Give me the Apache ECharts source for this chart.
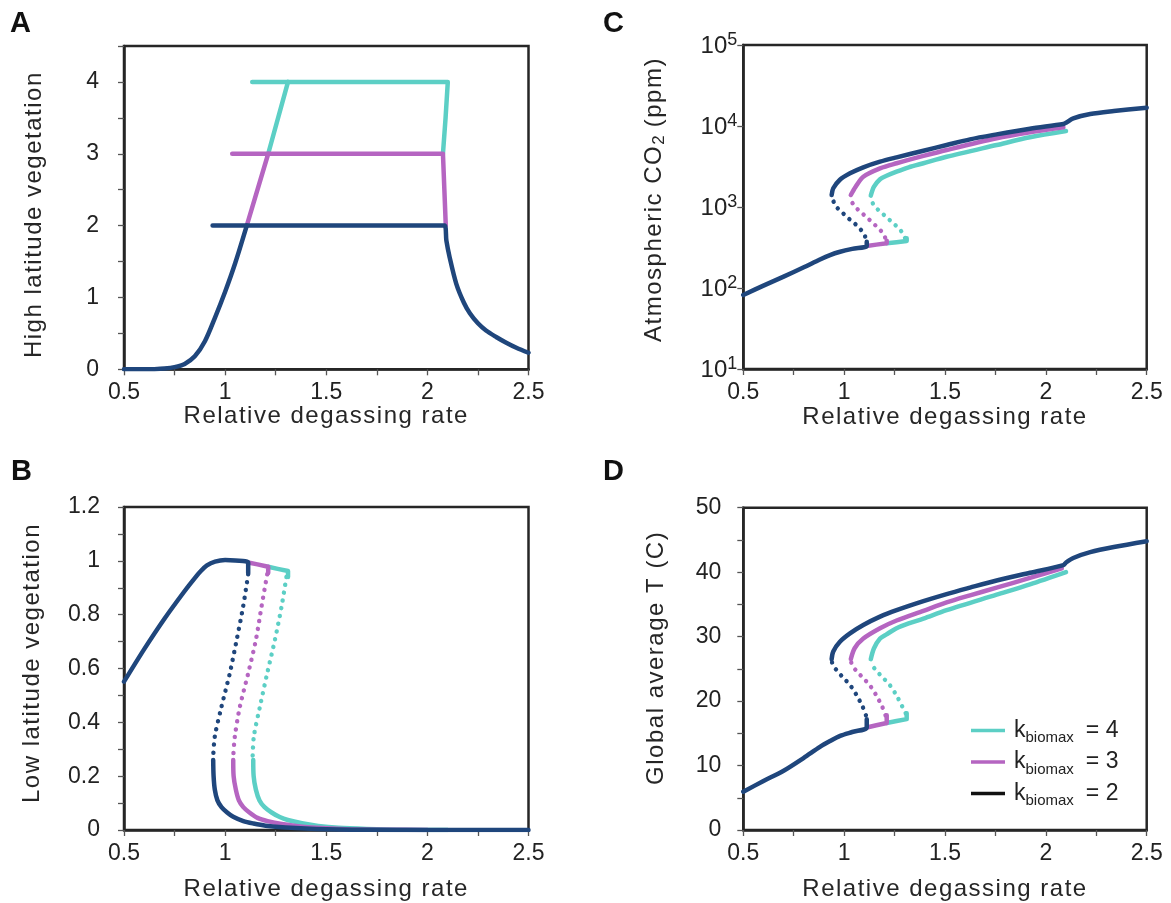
<!DOCTYPE html>
<html><head><meta charset="utf-8">
<script src="https://cdn.jsdelivr.net/npm/echarts@6/dist/echarts.min.js"></script>
<style>html,body{margin:0;padding:0;background:#fff}#c{width:1171px;height:903px}</style>
</head><body><div id="c"></div>
<script>
// ---------- data ----------
const xTickLabels = ['0.5', '1', '1.5', '2', '2.5'];
const seriesKeys = ['k4', 'k3', 'k2'];
const legendValues = {k4: '4', k3: '3', k2: '2'};

// A: high latitude vegetation
const aNavyCold = [[0.5,0],[0.6,0],[0.65,0.002],[0.7,0.01],[0.75,0.03],[0.8,0.075],[0.85,0.18],[0.9,0.39],[0.95,0.72],[1.0,1.08],[1.05,1.48],[1.107,2.0]];
const aNavyHot = [[0.938,2],[2.085,2],[2.094,1.79],[2.11,1.56],[2.143,1.19],[2.18,0.93],[2.21,0.78],[2.25,0.64],[2.29,0.54],[2.34,0.45],[2.39,0.37],[2.44,0.3],[2.5,0.23]];
const aMagCold = [[1.107,2],[1.213,3]];
const aMagHot = [[1.035,3],[2.077,3],[2.084,2.5],[2.091,2]];
const aTealCold = [[1.213,3],[1.311,4]];
const aTealHot = [[1.134,4],[2.101,4],[2.09,3.5],[2.077,3]];

// B: low latitude vegetation
const bNavyUpper = [[0.5,0.551],[0.6,0.672],[0.7,0.785],[0.8,0.888],[0.85,0.936],[0.88,0.962],[0.91,0.983],[0.95,0.997],[1.0,1.003],[1.05,1.001],[1.114,0.994],[1.114,0.955]];
const bMagUpper = [[1.114,0.994],[1.16,0.987],[1.213,0.978],[1.213,0.955]];
const bTealUpper = [[1.213,0.978],[1.26,0.97],[1.311,0.962],[1.311,0.94]];
const bNavyMid = [[1.114,0.95],[1.089,0.83],[1.057,0.706],[1.023,0.582],[0.982,0.458],[0.949,0.347],[0.941,0.27]];
const bMagMid = [[1.208,0.95],[1.18,0.83],[1.152,0.706],[1.114,0.582],[1.073,0.458],[1.048,0.347],[1.04,0.27]];
const bTealMid = [[1.303,0.94],[1.279,0.83],[1.246,0.706],[1.208,0.582],[1.172,0.458],[1.142,0.347],[1.136,0.27]];
const bNavyLower = [[0.941,0.26],[0.943,0.2],[0.949,0.15],[0.962,0.11],[0.982,0.085],[1.01,0.065],[1.04,0.049],[1.09,0.033],[1.14,0.024],[1.2,0.016],[1.3,0.009],[1.45,0.004],[1.7,0.001],[2.0,0],[2.5,0]];
const bMagLower = [[1.04,0.26],[1.042,0.2],[1.053,0.15],[1.068,0.11],[1.09,0.085],[1.12,0.065],[1.16,0.045],[1.21,0.033],[1.28,0.022],[1.36,0.014],[1.45,0.008],[1.6,0.003],[1.8,0.001],[2.0,0]];
const bTealLower = [[1.139,0.26],[1.141,0.2],[1.152,0.15],[1.17,0.11],[1.195,0.085],[1.23,0.065],[1.27,0.048],[1.31,0.037],[1.38,0.025],[1.46,0.015],[1.56,0.008],[1.7,0.004],[1.9,0.001],[2.1,0]];

// C: atmospheric CO2 (ppm)
const cNavyCold = [[0.5,82],[0.6,107],[0.7,138],[0.8,180],[0.88,225],[0.93,255],[0.98,280],[1.04,304],[1.112,330],[1.112,373]];
const cMagCold = [[1.112,330],[1.16,343],[1.211,357],[1.211,384]];
const cTealCold = [[1.211,357],[1.26,368],[1.31,380],[1.31,410]];
const cNavyMid = [[1.104,432],[1.091,495],[1.059,603],[1.029,697],[1.0,813],[0.968,964],[0.948,1162],[0.94,1300]];
const cMagMid = [[1.203,420],[1.186,495],[1.156,590],[1.125,697],[1.095,813],[1.062,964],[1.037,1162],[1.034,1300]];
const cTealMid = [[1.302,415],[1.285,495],[1.256,590],[1.224,697],[1.194,813],[1.161,964],[1.137,1162],[1.133,1300]];
const cNavyHot = [[0.938,1406],[0.946,1702],[0.979,2172],[1.029,2608],[1.095,3093],[1.178,3631],[1.26,4106],[1.393,4955],[1.508,5821],[1.624,6839],[1.756,7880],[1.921,9270],[2.087,10600],[2.1,10970],[2.136,12450],[2.22,14060],[2.337,15300],[2.5,16830]];
const cMagHot = [[1.033,1406],[1.057,1780],[1.095,2366],[1.178,3000],[1.26,3470],[1.393,4270],[1.508,5060],[1.756,7050],[1.921,8350],[2.087,9640]];
const cTealHot = [[1.132,1380],[1.148,1780],[1.178,2200],[1.21,2427],[1.26,2730],[1.32,3090],[1.393,3470],[1.508,4170],[1.756,5820],[1.921,7250],[2.1,8670]];

// D: global average T (C)
const dNavyCold = [[0.5,5.94],[0.6,7.6],[0.7,9.2],[0.8,11.2],[0.88,12.9],[0.93,13.8],[0.98,14.6],[1.04,15.2],[1.112,15.9],[1.112,17.2]];
const dMagCold = [[1.112,15.9],[1.16,16.25],[1.211,16.6],[1.211,17.8]];
const dTealCold = [[1.211,16.6],[1.26,16.9],[1.31,17.2],[1.31,18.1]];
const dNavyMid = [[1.108,17.8],[1.092,19.1],[1.062,20.9],[1.029,22.5],[0.996,23.6],[0.968,24.6],[0.945,25.5],[0.94,26.0]];
const dMagMid = [[1.205,17.8],[1.189,19.1],[1.159,20.9],[1.126,22.5],[1.093,23.6],[1.063,24.6],[1.04,25.5],[1.035,26.0]];
const dTealMid = [[1.305,18.1],[1.289,19.1],[1.259,20.9],[1.226,22.5],[1.193,23.6],[1.163,24.6],[1.14,25.5],[1.134,26.0]];
const dNavyHot = [[0.938,26.5],[0.946,27.7],[0.979,29.2],[1.029,30.5],[1.095,31.8],[1.178,33.1],[1.26,34.1],[1.393,35.5],[1.508,36.6],[1.624,37.6],[1.756,38.7],[1.921,39.9],[2.087,41.1],[2.1,41.5],[2.136,42.2],[2.22,43.1],[2.337,43.9],[2.5,44.8]];
const dMagHot = [[1.033,26.5],[1.052,28.2],[1.095,29.7],[1.178,31.3],[1.26,32.5],[1.393,34.0],[1.508,35.3],[1.624,36.4],[1.756,37.6],[1.921,39.1],[2.079,40.6]];
const dTealHot = [[1.132,26.5],[1.148,28.2],[1.178,29.7],[1.21,30.35],[1.26,31.3],[1.32,32.05],[1.393,32.8],[1.508,34.1],[1.756,36.5],[1.921,38.1],[2.1,40.0]];

// ---------- styling ----------
const COLORS = {k2: '#1f467c', k3: '#b565c1', k4: '#5ccfc5'};
const LEGEND_COLORS = {k2: '#111111', k3: '#b565c1', k4: '#5ccfc5'};
const TITLE_FONT = 'Liberation Sans, Helvetica';   // titles get letter spacing
const LABEL_FONT = 'Liberation Sans';
const AXIS_COLOR = '#262626';
const TEXT_COLOR = '#222';
const TITLE_SIZE = 24;
const SPACING = 1.5;

// letter-spacing for title text (marker: Helvetica in font string)
(function () {
  const P = CanvasRenderingContext2D.prototype;
  const orig = P.fillText;
  P.fillText = function (t, x, y, w) {
    if ('letterSpacing' in this) {
      this.letterSpacing = (String(this.font).indexOf('Helvetica') >= 0) ? SPACING + 'px' : '0px';
    }
    return w === undefined ? orig.call(this, t, x, y) : orig.call(this, t, x, y, w);
  };
})();
const measureCtx = document.createElement('canvas').getContext('2d');
function spacedWidth(text, size) {
  measureCtx.font = size + 'px "Liberation Sans"';
  return measureCtx.measureText(text).width + SPACING * text.length;
}

// ---------- layout ----------
const grids = [
  {left: 124, top: 46, width: 404.5, height: 323.3},    // A
  {left: 124, top: 507, width: 404.5, height: 323},     // B
  {left: 743.3, top: 45, width: 403.4, height: 324},    // C
  {left: 743.3, top: 507.7, width: 403.4, height: 322.3} // D
].map(g => Object.assign({show: true, borderColor: AXIS_COLOR, borderWidth: 2.5,
  backgroundColor: 'transparent', containLabel: false, outerBoundsMode: 'none'}, g));

const near = (v, step) => Math.abs(v / step - Math.round(v / step)) < 1e-6;

function xAxis(gi, nameGap) {
  return {
    type: 'value', gridIndex: gi, min: 0.5, max: 2.5, interval: 0.25,
    axisLine: {show: true, onZero: false, lineStyle: {color: AXIS_COLOR, width: 2.5}},
    axisTick: {show: true, inside: false, length: 6, lineStyle: {color: '#555', width: 1.3}},
    axisLabel: {margin: 12, fontSize: 23, color: TEXT_COLOR, fontFamily: LABEL_FONT,
      formatter: v => near(v, 0.5) ? xTickLabels[Math.round((v - 0.5) / 0.5)] : ''},
    splitLine: {show: false},
    name: 'Relative degassing rate', nameLocation: 'middle', nameGap: nameGap, nameMoveOverlap: false,
    nameTextStyle: {fontSize: TITLE_SIZE, fontFamily: TITLE_FONT, color: AXIS_COLOR}
  };
}
function yAxisBase(gi, extra) {
  return Object.assign({
    type: 'value', gridIndex: gi,
    axisLine: {show: true, onZero: false, lineStyle: {color: AXIS_COLOR, width: 2.5}},
    axisTick: {show: true, inside: false, length: 6, lineStyle: {color: '#555', width: 1.3}},
    splitLine: {show: false}, nameLocation: 'middle', nameRotate: 90, nameMoveOverlap: false
  }, extra);
}

const wA = spacedWidth('Atmospheric CO', TITLE_SIZE);
const wB = spacedWidth(' (ppm)', TITLE_SIZE);

const yAxes = [
  yAxisBase(0, {min: 0, max: 4.5, interval: 0.5,
    axisLabel: {margin: 25, fontSize: 23, color: TEXT_COLOR, fontFamily: LABEL_FONT,
      formatter: v => (near(v, 1) && v <= 4) ? String(Math.round(v)) : ''},
    name: 'High latitude vegetation', nameGap: 78,
    nameTextStyle: {fontSize: TITLE_SIZE, fontFamily: TITLE_FONT, color: AXIS_COLOR, padding: [0, 14, 0, 0]}}),
  yAxisBase(1, {min: 0, max: 1.2, interval: 0.1,
    axisLabel: {margin: 24, fontSize: 23, color: TEXT_COLOR, fontFamily: LABEL_FONT,
      formatter: v => { const k = Math.round(v * 10); return k % 2 ? '' : String(k / 10); }},
    name: 'Low latitude vegetation', nameGap: 80,
    nameTextStyle: {fontSize: TITLE_SIZE, fontFamily: TITLE_FONT, color: AXIS_COLOR, padding: [0, 0, 0, 11]}}),
  yAxisBase(2, {type: 'log', logBase: 10, min: 10, max: 100000,
    axisLabel: {margin: 6, color: TEXT_COLOR,
      formatter: v => '{b|10}{p|' + Math.round(Math.log10(v)) + '}',
      rich: {b: {fontSize: 24, fontFamily: LABEL_FONT, color: TEXT_COLOR, lineHeight: 27, verticalAlign: 'bottom'},
             p: {fontSize: 18, fontFamily: LABEL_FONT, color: TEXT_COLOR, lineHeight: 27, verticalAlign: 'top'}}},
    name: '{a|Atmospheric CO}{s|2}{b| (ppm)}', nameGap: 75,
    nameTextStyle: {padding: [0, 0, 0, 15],
      rich: {a: {fontSize: TITLE_SIZE, fontFamily: TITLE_FONT, color: AXIS_COLOR, width: wA, lineHeight: 28, verticalAlign: 'middle'},
             s: {fontSize: 17, fontFamily: LABEL_FONT, color: AXIS_COLOR, lineHeight: 28, verticalAlign: 'bottom'},
             b: {fontSize: TITLE_SIZE, fontFamily: TITLE_FONT, color: AXIS_COLOR, width: wB, lineHeight: 28, verticalAlign: 'middle'}}}}),
  yAxisBase(3, {min: 0, max: 50, interval: 5,
    axisLabel: {margin: 22, fontSize: 23, color: TEXT_COLOR, fontFamily: LABEL_FONT,
      formatter: v => near(v, 10) ? String(Math.round(v)) : ''},
    name: 'Global average T (C)', nameGap: 75,
    nameTextStyle: {fontSize: TITLE_SIZE, fontFamily: TITLE_FONT, color: AXIS_COLOR, padding: [0, 0, 0, 22]}})
];

function mk(key, gi, data, kind) {
  const dotted = kind === 'dot';
  return {
    type: 'line', name: key, xAxisIndex: gi, yAxisIndex: gi, data: data,
    showSymbol: false, symbol: 'none', silent: true, clip: true,
    smooth: kind === 'straight' ? false : 0.3,
    lineStyle: dotted
      ? {color: COLORS[key], width: 4.4, type: [0.1, 7.8], cap: 'round'}
      : {color: COLORS[key], width: 4.5, cap: 'round', join: 'round'},
    itemStyle: {color: COLORS[key]}
  };
}

const series = [
  // A
  mk('k4', 0, aTealHot, 'straight'), mk('k4', 0, aTealCold, 'straight'),
  mk('k3', 0, aMagHot, 'straight'), mk('k3', 0, aMagCold, 'straight'),
  mk('k2', 0, aNavyCold, 'curve'), mk('k2', 0, aNavyHot, 'curve'),
  // B
  mk('k4', 1, bTealLower, 'curve'), mk('k4', 1, bTealMid, 'dot'), mk('k4', 1, bTealUpper, 'straight'),
  mk('k3', 1, bMagLower, 'curve'), mk('k3', 1, bMagMid, 'dot'), mk('k3', 1, bMagUpper, 'straight'),
  mk('k2', 1, bNavyLower, 'curve'), mk('k2', 1, bNavyMid, 'dot'), mk('k2', 1, bNavyUpper, 'curve'),
  // C
  mk('k4', 2, cTealHot, 'curve'), mk('k4', 2, cTealMid, 'dot'), mk('k4', 2, cTealCold, 'straight'),
  mk('k3', 2, cMagHot, 'curve'), mk('k3', 2, cMagMid, 'dot'), mk('k3', 2, cMagCold, 'straight'),
  mk('k2', 2, cNavyHot, 'curve'), mk('k2', 2, cNavyMid, 'dot'), mk('k2', 2, cNavyCold, 'curve'),
  // D
  mk('k4', 3, dTealHot, 'curve'), mk('k4', 3, dTealMid, 'dot'), mk('k4', 3, dTealCold, 'straight'),
  mk('k3', 3, dMagHot, 'curve'), mk('k3', 3, dMagMid, 'dot'), mk('k3', 3, dMagCold, 'straight'),
  mk('k2', 3, dNavyHot, 'curve'), mk('k2', 3, dNavyMid, 'dot'), mk('k2', 3, dNavyCold, 'curve')
];

const panelLetters = [
  {t: 'A', x: 10, y: 9}, {t: 'B', x: 11, y: 457}, {t: 'C', x: 603, y: 9}, {t: 'D', x: 603, y: 457}
];

const option = {
  animation: false,
  backgroundColor: '#ffffff',
  grid: grids,
  xAxis: [xAxis(0, 35), xAxis(1, 47), xAxis(2, 36), xAxis(3, 47)],
  yAxis: yAxes,
  legend: {
    data: seriesKeys.map(k => ({name: k, itemStyle: {color: LEGEND_COLORS[k]}})),
    orient: 'vertical', left: 971, top: 719, itemWidth: 34, itemHeight: 3.5, itemGap: 5,
    icon: 'rect', selectedMode: false, padding: 0,
    formatter: name => '{k|k}{s|biomax}{e|= ' + legendValues[name] + '}',
    textStyle: {rich: {
      k: {fontSize: 23, fontFamily: LABEL_FONT, color: TEXT_COLOR, lineHeight: 30, padding: [0, 0, 0, 4]},
      s: {fontSize: 15, fontFamily: LABEL_FONT, color: TEXT_COLOR, lineHeight: 30, verticalAlign: 'bottom'},
      e: {fontSize: 23, fontFamily: LABEL_FONT, color: TEXT_COLOR, lineHeight: 30, padding: [0, 0, 0, 12]}
    }}
  },
  graphic: panelLetters.map(p => ({type: 'text', left: p.x, top: p.y, silent: true,
    style: {text: p.t, font: 'bold 29px "Liberation Sans"', fill: '#111'}})),
  series: series
};

const chart = echarts.init(document.getElementById('c'), null, {renderer: 'canvas'});
chart.setOption(option);
</script></body></html>
